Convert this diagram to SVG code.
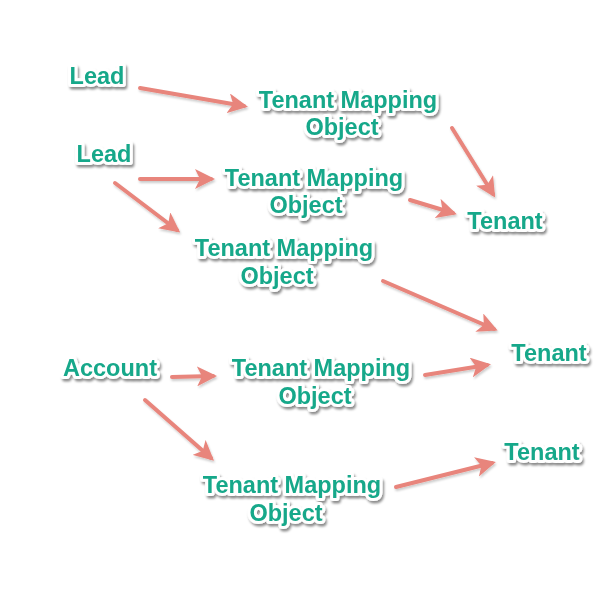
<svg xmlns="http://www.w3.org/2000/svg" width="609" height="600" viewBox="0 0 609 600">
<style>
.t{font-family:"Liberation Sans",Arial,sans-serif;font-weight:bold;font-size:23.5px;fill:#17a88a;stroke:#ffffff;stroke-width:6px;stroke-linejoin:round;paint-order:stroke;text-anchor:middle;filter:url(#ts)}
.c{stroke:#e8857c;stroke-width:4;fill:none;stroke-linecap:round;marker-end:url(#ah);filter:url(#as)}
</style>
<defs>
<filter id="ts" filterUnits="userSpaceOnUse" x="0" y="0" width="609" height="600"><feDropShadow dx="1.5" dy="2.5" stdDeviation="1.2" flood-color="#000" flood-opacity="0.45"/></filter>
<filter id="as" filterUnits="userSpaceOnUse" x="0" y="0" width="609" height="600"><feDropShadow dx="1" dy="2" stdDeviation="1.2" flood-color="#000" flood-opacity="0.2"/></filter>
<marker id="ah" viewBox="0 0 10 10" refX="8" refY="5" markerWidth="5" markerHeight="5" orient="auto" markerUnits="strokeWidth">
<path d="M0,0 L10,5 L0,10 L2.5,5 Z" fill="#e8857c"/>
</marker>
</defs>
<rect width="609" height="600" fill="#ffffff"/>
<g id="connectors">
<line class="c" x1="140" y1="88" x2="244" y2="106"/>
<line class="c" x1="452" y1="128" x2="493" y2="194"/>
<line class="c" x1="140" y1="179" x2="211" y2="179"/>
<line class="c" x1="115" y1="183" x2="177" y2="230"/>
<line class="c" x1="410" y1="200" x2="453" y2="213"/>
<line class="c" x1="383" y1="281" x2="494" y2="329"/>
<line class="c" x1="172" y1="377" x2="213" y2="376"/>
<line class="c" x1="425" y1="375" x2="487" y2="365"/>
<line class="c" x1="145" y1="400" x2="211" y2="458"/>
<line class="c" x1="396" y1="487" x2="492" y2="463"/>
</g>
<g id="lead1"><text class="t" x="97" y="84">Lead</text></g>
<g id="lead2"><text class="t" x="104" y="162">Lead</text></g>
<g id="account"><text class="t" x="110" y="376">Account</text></g>
<g id="tmo1"><text class="t" x="348" y="108">Tenant Mapping</text><text class="t" x="342" y="135">Object</text></g>
<g id="tmo2"><text class="t" x="314" y="186">Tenant Mapping</text><text class="t" x="306" y="213">Object</text></g>
<g id="tmo3"><text class="t" x="284" y="256">Tenant Mapping</text><text class="t" x="277" y="284">Object</text></g>
<g id="tmo4"><text class="t" x="321" y="376">Tenant Mapping</text><text class="t" x="315" y="404">Object</text></g>
<g id="tmo5"><text class="t" x="292" y="493">Tenant Mapping</text><text class="t" x="286" y="521">Object</text></g>
<g id="tenant1"><text class="t" x="505" y="229">Tenant</text></g>
<g id="tenant2"><text class="t" x="549" y="361">Tenant</text></g>
<g id="tenant3"><text class="t" x="542" y="460">Tenant</text></g>
</svg>
